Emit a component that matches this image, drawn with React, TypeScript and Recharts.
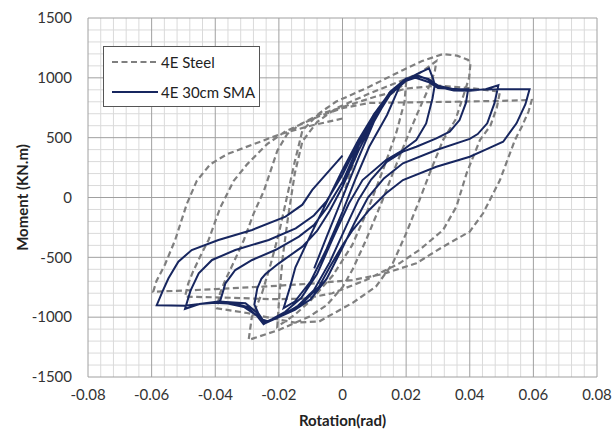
import React from 'react';
import { ComposedChart, Line, XAxis, YAxis, ReferenceLine } from 'recharts';

type Pt = [number, number];

const xTicks = [-0.08, -0.06, -0.04, -0.02, 0, 0.02, 0.04, 0.06, 0.08];
const yTicks = [-1500, -1000, -500, 0, 500, 1000, 1500];

// minor gridlines (Excel style, 5 per major)
const xMinor: number[] = [];
for (let i = -20; i <= 20; i++) if (i % 5 !== 0) xMinor.push(+(i * 0.004).toFixed(3));
const yMinor: number[] = [];
for (let i = -15; i <= 15; i++) if (i % 5 !== 0) yMinor.push(i * 100);

// 4E Steel
const steelStart: Pt[] = [[0, 0], [0.005, 420], [0.01, 700], [0.015, 860], [0.02, 960]];
const steelDown20: Pt[] = [[0.0195, 800], [0.017, 550], [0.013, 250], [0.008, -100], [0.003, -400], [-0.003, -650], [-0.01, -860], [-0.015, -980], [-0.0205, -1080]];
const steelUp30: Pt[] = [[-0.0198, -800], [-0.0188, -500], [-0.0172, -180], [-0.015, 200], [-0.0126, 470], [-0.008, 630], [-0.0021, 744], [0.0084, 869], [0.0189, 980], [0.024, 1035], [0.0295, 1140]];
const steelDown30: Pt[] = [[0.029, 1050], [0.0265, 880], [0.0235, 700], [0.02, 480], [0.0158, 202], [0.0126, -21], [0.0074, -355], [0.0032, -600], [0, -750], [-0.005, -900], [-0.0105, -996], [-0.02, -1107], [-0.0295, -1190]];
const steelUp40: Pt[] = [[-0.0285, -1000], [-0.0253, -800], [-0.0225, -550], [-0.02, -300], [-0.0175, 0], [-0.015, 300], [-0.0126, 560], [-0.0075, 700], [-0.0021, 800], [0.0084, 925], [0.0189, 1064], [0.025, 1140], [0.0316, 1199], [0.036, 1185], [0.0395, 1150], [0.0402, 1115]];
const steelDown40: Pt[] = [[0.0398, 1000], [0.038, 850], [0.0355, 650], [0.0316, 480], [0.0274, 202], [0.0242, -21], [0.02, -300], [0.0158, -550], [0.0105, -745], [0.0032, -880], [-0.0074, -1037], [-0.015, -1045], [-0.022, -1010], [-0.03, -965], [-0.0395, -926]];
const steelUp50: Pt[] = [[-0.0385, -800], [-0.037, -700], [-0.034, -530], [-0.031, -355], [-0.0279, -132], [-0.0247, 56], [-0.0205, 390], [-0.0174, 530], [-0.0131, 614], [-0.0069, 698], [0.0005, 760], [0.01, 840], [0.02, 910], [0.03, 935], [0.04, 915], [0.0495, 884]];
const steelDown50: Pt[] = [[0.0485, 750], [0.0465, 600], [0.0432, 480], [0.039, 202], [0.0358, -77], [0.0316, -272], [0.0242, -438], [0.0179, -550], [0.0074, -689], [-0.0032, -800], [-0.012, -845], [-0.022, -850], [-0.035, -838], [-0.0495, -828]];
const steelUp60: Pt[] = [[-0.0485, -720], [-0.047, -620], [-0.0445, -480], [-0.0421, -355], [-0.0384, -83], [-0.0342, 139], [-0.03, 277], [-0.0237, 446], [-0.0179, 554], [-0.0074, 679], [0, 747], [0.0084, 790], [0.02, 795], [0.035, 800], [0.05, 808], [0.0595, 815]];
const steelDown60: Pt[] = [[0.0585, 720], [0.0565, 600], [0.0542, 480], [0.0495, 146], [0.0442, -132], [0.04, -285], [0.0316, -411], [0.0232, -550], [0.0126, -640], [0.003, -690], [-0.01, -720], [-0.025, -745], [-0.04, -765], [-0.05, -778], [-0.0595, -787]];
const steelEnd: Pt[] = [[-0.0585, -700], [-0.0558, -560], [-0.0526, -355], [-0.0489, -51], [-0.0458, 139], [-0.0416, 277], [-0.0363, 362], [-0.0279, 446], [-0.0195, 530], [-0.01, 600], [0, 660]];

// 4E 30cm SMA
const smaStart: Pt[] = [[-0.0089, -592], [-0.005, -330], [0, 0], [0.005, 330], [0.01, 640], [0.0145, 850], [0.0185, 950]];
const smaDown20: Pt[] = [[0.0179, 926], [0.014, 690], [0.0084, 424], [0.004, 150], [0, -120], [-0.005, -430], [-0.01, -700], [-0.015, -870], [-0.0185, -925]];
const smaUp30: Pt[] = [[-0.0165, -750], [-0.0148, -583], [-0.0099, -306], [-0.005, -40], [0, 230], [0.005, 480], [0.01, 700], [0.015, 880], [0.02, 985], [0.024, 1040], [0.0272, 1080], [0.0285, 990], [0.029, 940]];
const smaDown30: Pt[] = [[0.0283, 830], [0.0263, 619], [0.0232, 480], [0.019, 397], [0.0137, 313], [0.0063, 146], [0.002, -50], [-0.003, -340], [-0.008, -640], [-0.013, -840], [-0.018, -955], [-0.022, -1015], [-0.0245, -1045], [-0.0265, -965], [-0.0277, -895]];
const smaUp40: Pt[] = [[-0.0268, -760], [-0.0255, -680], [-0.0242, -640], [-0.02, -550], [-0.0126, -411], [-0.008, -280], [-0.004, -110], [0, 90], [0.005, 390], [0.01, 650], [0.015, 860], [0.02, 975], [0.024, 1010], [0.027, 990], [0.03, 935], [0.035, 905], [0.0395, 905]];
const smaDown40: Pt[] = [[0.0388, 790], [0.0368, 647], [0.0337, 550], [0.0295, 494], [0.0232, 424], [0.019, 383], [0.014, 300], [0.009, 150], [0.005, -20], [0.001, -250], [-0.004, -540], [-0.009, -775], [-0.014, -905], [-0.019, -985], [-0.0235, -1035], [-0.026, -1010], [-0.03, -915], [-0.035, -878], [-0.0385, -868]];
const smaUp50: Pt[] = [[-0.0375, -780], [-0.0368, -717], [-0.0337, -606], [-0.0284, -522], [-0.0211, -439], [-0.0137, -327], [-0.009, -230], [-0.005, -90], [0, 130], [0.005, 430], [0.01, 670], [0.015, 870], [0.02, 985], [0.0235, 1020], [0.027, 985], [0.03, 925], [0.035, 895], [0.04, 893], [0.045, 905], [0.049, 938]];
const smaDown50: Pt[] = [[0.0478, 790], [0.0455, 620], [0.0425, 530], [0.04, 490], [0.0295, 397], [0.019, 286], [0.013, 160], [0.008, 0], [0.004, -200], [0, -420], [-0.005, -680], [-0.01, -850], [-0.015, -940], [-0.02, -1000], [-0.0245, -1052], [-0.027, -960], [-0.0305, -884], [-0.039, -870], [-0.045, -890], [-0.0495, -932]];
const smaUp60: Pt[] = [[-0.0478, -780], [-0.0452, -633], [-0.041, -522], [-0.0337, -439], [-0.0232, -355], [-0.0147, -258], [-0.009, -150], [-0.005, -30], [0, 190], [0.005, 460], [0.01, 690], [0.015, 885], [0.02, 995], [0.0225, 1005], [0.027, 965], [0.03, 915], [0.04, 900], [0.049, 905], [0.0588, 905]];
const smaDown60: Pt[] = [[0.0575, 780], [0.0547, 620], [0.0505, 466], [0.045, 400], [0.04, 341], [0.0295, 257], [0.019, 146], [0.0137, 35], [0.0084, -104], [0.0032, -272], [0, -400], [-0.004, -580], [-0.0074, -745], [-0.0126, -884], [-0.018, -968], [-0.023, -1030], [-0.0248, -1058], [-0.027, -985], [-0.031, -915], [-0.036, -885], [-0.04, -880], [-0.045, -890], [-0.0495, -905], [-0.0584, -900]];
const smaEnd: Pt[] = [[-0.0565, -780], [-0.0547, -675], [-0.0516, -536], [-0.0474, -439], [-0.039, -355], [-0.0284, -271], [-0.0179, -160], [-0.0126, -60], [-0.0095, 63], [-0.005, 200], [0, 350]];

const toRows = (segs: Pt[][]) => segs.flat().map(([x, y]) => ({ x, y }));

const steelData = toRows([steelStart, steelDown20, steelUp30, steelDown30, steelUp40, steelDown40, steelUp50, steelDown50, steelUp60, steelDown60, steelEnd]);
const smaData = toRows([smaStart, smaDown20, smaUp30, smaDown30, smaUp40, smaDown40, smaUp50, smaDown50, smaUp60, smaDown60, smaEnd]);

const FONT = 'Lato, "Open Sans", sans-serif';
const STEEL = '#7f7f7f';
const SMA = '#17265f';
const MAJOR = '#a0a0a0';
const MINOR = '#dadada';

const fmtX = (v: number) => (v === 0 ? '0' : v.toFixed(2));

const App: React.FC = () => {
  return (
    <div style={{ position: 'absolute', left: 0, top: 0, width: 614, height: 433, background: '#fff', fontFamily: FONT }}>
      <ComposedChart width={614} height={433} margin={{ top: 18, right: 17, bottom: 0, left: 0 }}>
        <XAxis
          dataKey="x"
          type="number"
          domain={[-0.08, 0.08]}
          ticks={xTicks}
          tickFormatter={fmtX}
          allowDataOverflow
          height={56}
          axisLine={false}
          tickLine={false}
          tickSize={0}
          tickMargin={12}
          tick={{ fontSize: 15, fill: '#333', fontFamily: FONT }}
          label={{
            content: ({ viewBox }: any) => (
              <text x={viewBox.x + viewBox.width / 2} y={viewBox.y + 49} textAnchor="middle" fontSize={15} fontWeight="bold" fill="#222" fontFamily={FONT}>
                Rotation(rad)
              </text>
            ),
          }}
        />
        <YAxis
          dataKey="y"
          type="number"
          domain={[-1500, 1500]}
          ticks={yTicks}
          allowDataOverflow
          width={88}
          axisLine={false}
          tickLine={false}
          tickSize={0}
          tickMargin={16}
          tick={{ fontSize: 15, fill: '#333', fontFamily: FONT }}
          label={{
            content: ({ viewBox }: any) => {
              const cx = viewBox.x + 22;
              const cy = viewBox.y + viewBox.height / 2;
              return (
                <text x={cx} y={cy} transform={`rotate(-90 ${cx} ${cy})`} textAnchor="middle" dominantBaseline="central" fontSize={15} fontWeight="bold" fill="#222" fontFamily={FONT}>
                  Moment (KN.m)
                </text>
              );
            },
          }}
        />

        {xMinor.map((v) => (
          <ReferenceLine key={`xm${v}`} x={v} stroke={MINOR} strokeWidth={1} />
        ))}
        {yMinor.map((v) => (
          <ReferenceLine key={`ym${v}`} y={v} stroke={MINOR} strokeWidth={1} />
        ))}
        {xTicks.map((v) => (
          <ReferenceLine key={`xM${v}`} x={v} stroke={MAJOR} strokeWidth={1} />
        ))}
        {yTicks.map((v) => (
          <ReferenceLine key={`yM${v}`} y={v} stroke={MAJOR} strokeWidth={1} />
        ))}

        <Line
          data={steelData}
          dataKey="y"
          name="4E Steel"
          type="linear"
          stroke={STEEL}
          strokeWidth={2.2}
          strokeDasharray="6 3.5"
          dot={false}
          activeDot={false}
          isAnimationActive={false}
        />
        <Line
          data={smaData}
          dataKey="y"
          name="4E 30cm SMA"
          type="linear"
          stroke={SMA}
          strokeWidth={2}
          dot={false}
          activeDot={false}
          isAnimationActive={false}
        />
      </ComposedChart>

      <div
        style={{
          position: 'absolute',
          left: 103,
          top: 46,
          width: 155,
          height: 59,
          border: '1px solid #555',
          background: '#fff',
          fontSize: 15,
          color: '#222',
        }}
      >
        <div style={{ position: 'absolute', left: 8, top: 6, display: 'flex', alignItems: 'center', whiteSpace: 'nowrap' }}>
          <svg width={46} height={6} style={{ marginRight: 3 }}>
            <line x1={0} y1={3} x2={46} y2={3} stroke={STEEL} strokeWidth={2.2} strokeDasharray="6 3.5" />
          </svg>
          4E Steel
        </div>
        <div style={{ position: 'absolute', left: 8, top: 36, display: 'flex', alignItems: 'center', whiteSpace: 'nowrap' }}>
          <svg width={46} height={6} style={{ marginRight: 3 }}>
            <line x1={0} y1={3} x2={46} y2={3} stroke={SMA} strokeWidth={2} />
          </svg>
          4E 30cm SMA
        </div>
      </div>
    </div>
  );
};

export default App;
